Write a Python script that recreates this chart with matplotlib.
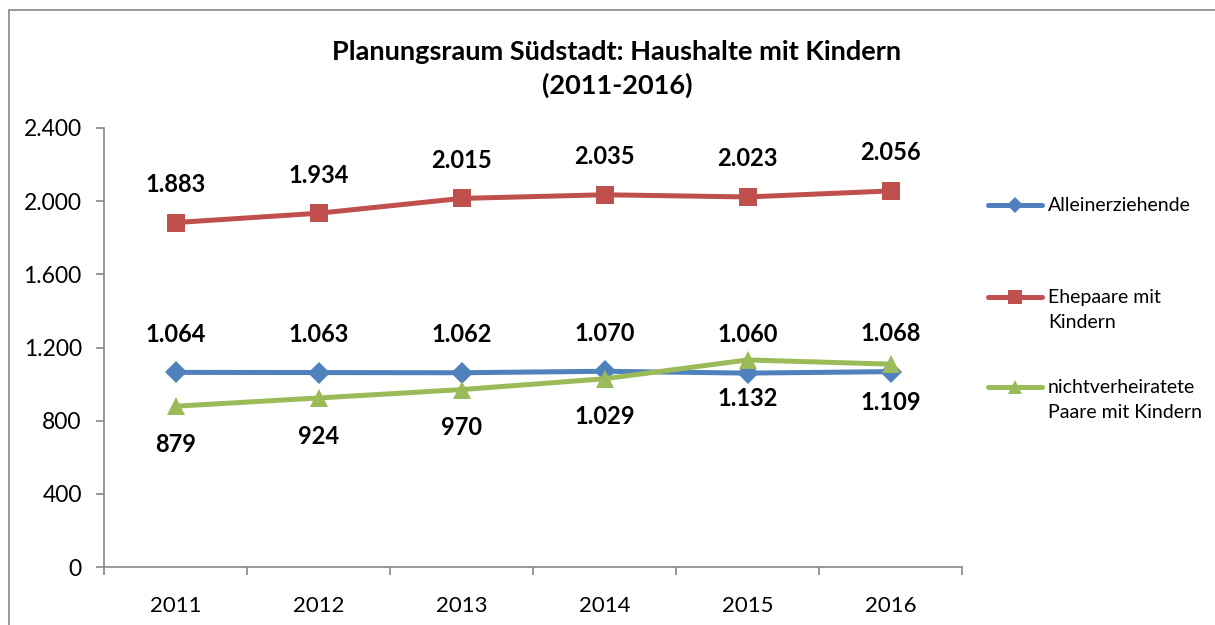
import numpy as np
import matplotlib
matplotlib.use("Agg")
import matplotlib.pyplot as plt
from matplotlib.lines import Line2D
from matplotlib.patches import Rectangle

plt.rcParams["font.family"] = ["Lato", "DejaVu Sans"]

years = ["2011", "2012", "2013", "2014", "2015", "2016"]
alleinerziehende = [1064, 1063, 1062, 1070, 1060, 1068]
ehepaare = [1883, 1934, 2015, 2035, 2023, 2056]
nichtverheiratete = [879, 924, 970, 1029, 1132, 1109]
yticks = [0, 400, 800, 1200, 1600, 2000, 2400]

title = "Planungsraum Südstadt: Haushalte mit Kindern\n(2011-2016)"
labels = ["Alleinerziehende", "Ehepaare mit\nKindern", "nichtverheiratete\nPaare mit Kindern"]


def de(v):
    # German thousands separator
    return f"{v:,.0f}".replace(",", ".")


W, H = 1215, 625
fig = plt.figure(figsize=(W / 100, H / 100), dpi=100)
ax = fig.add_axes([104 / W, 1 - 567 / H, (962 - 104) / W, (567 - 128) / H])

x = np.arange(len(years))
series = [
    (alleinerziehende, "#4F81BD", "D", 11, 1),    # label above
    (ehepaare, "#C0504D", "s", 12.5, 1),         # label above
    (nichtverheiratete, "#9BBB59", "^", 13, -1),  # label below
]

for vals, color, marker, ms, side in series:
    ax.plot(x, vals, color=color, linewidth=3.6, marker=marker, markersize=ms,
            markeredgewidth=0, solid_capstyle="round", zorder=3)
    for xi, v in zip(x, vals):
        ax.annotate(de(v), (xi, v), xytext=(0, 27.5 * side), textcoords="offset points",
                    ha="center", va="center", fontsize=17, fontweight="bold", color="black")

ax.set_xlim(-0.5, len(years) - 0.5)
ax.set_ylim(0, 2400)
ax.set_yticks(yticks)
ax.set_yticklabels([de(v) for v in yticks])

# category boundaries as major ticks, labels centred via minor ticks
ax.set_xticks(np.arange(-0.5, len(years), 1.0))
ax.set_xticklabels([])
ax.set_xticks(x, minor=True)
ax.set_xticklabels(years, minor=True)
ax.tick_params(axis="x", which="major", length=6, width=1.2, color="#868686", direction="out")
ax.tick_params(axis="x", which="minor", length=0, pad=21, labelsize=16)
ax.tick_params(axis="y", length=6, width=1.2, color="#868686", direction="out", pad=10, labelsize=16.5)

for s in ["top", "right"]:
    ax.spines[s].set_visible(False)
for s in ["left", "bottom"]:
    ax.spines[s].set_color("#868686")
    ax.spines[s].set_linewidth(1.2)

fig.text(617 / W, 1 - 69 / H, title, ha="center", va="center",
         fontsize=19.5, fontweight="bold", linespacing=1.45)

# legend drawn by hand so the marker sits on the first text line
legend_y = [205, 297, 387]
for (vals, color, marker, ms, side), lab, ly in zip(series, labels, legend_y):
    yy = 1 - ly / H
    fig.add_artist(Line2D([988 / W, 1015 / W, 1042 / W], [yy, yy, yy], color=color,
                          linewidth=3.6, marker=marker, markersize=ms * 0.75,
                          markevery=[1], markeredgewidth=0, solid_capstyle="round"))
    fig.text(1048 / W, yy + 8 / H, lab, ha="left", va="top", fontsize=14, linespacing=1.6)

# outer chart border
fig.add_artist(Rectangle((9 / W, -0.1), 1.2, 1 - 10 / H + 0.1, fill=False,
                         edgecolor="#868686", linewidth=1.2, transform=fig.transFigure))

fig.savefig("out.png", dpi=100)
